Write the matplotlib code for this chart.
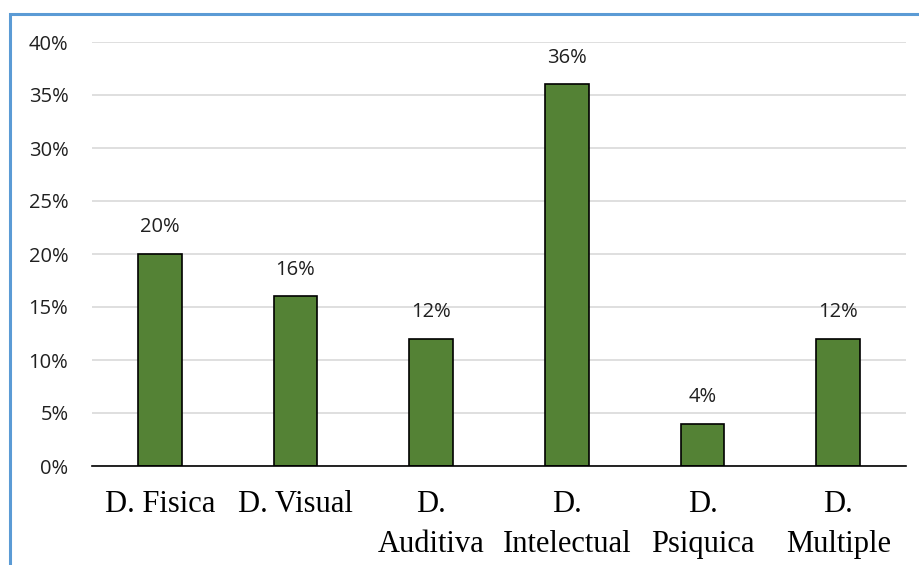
import matplotlib
matplotlib.use("Agg")
import matplotlib.pyplot as plt
from matplotlib.patches import Rectangle
from matplotlib.ticker import PercentFormatter

categories = ["D. Fisica", "D. Visual", "D.\nAuditiva", "D.\nIntelectual", "D.\nPsiquica", "D.\nMultiple"]
values = [0.20, 0.16, 0.12, 0.36, 0.04, 0.12]
yticks = [0, 0.05, 0.10, 0.15, 0.20, 0.25, 0.30, 0.35, 0.40]

W, H = 920, 565
fig = plt.figure(figsize=(W / 100, H / 100), dpi=100)
ax = fig.add_axes([92 / W, 1 - 466 / H, (906 - 92) / W, (466 - 42) / H])

x = list(range(len(categories)))
ax.bar(x, values, width=0.32, color="#548235", edgecolor="black", linewidth=1.2, zorder=3)
for xi, v in zip(x, values):
    ax.annotate(f"{round(v*100)}%", (xi, v), xytext=(0, 12), textcoords="offset points",
                ha="center", va="bottom", fontsize=14.5, family="Open Sans", color="#202020")

ax.set_xlim(-0.5, len(categories) - 0.5)
ax.set_ylim(0, 0.4)
ax.set_yticks(yticks)
ax.yaxis.set_major_formatter(PercentFormatter(1.0, decimals=0))
ax.grid(axis="y", color="#D9D9D9", linewidth=1.2, zorder=0)
for s in ["top", "right", "left"]:
    ax.spines[s].set_visible(False)
ax.spines["bottom"].set_color("#000000")
ax.spines["bottom"].set_linewidth(1.2)
ax.spines["bottom"].set_zorder(4)
ax.tick_params(axis="both", length=0)
ax.tick_params(axis="y", labelsize=14.5, pad=17)
for lab in ax.get_yticklabels():
    lab.set_family("Open Sans")
    lab.set_color("#202020")
ax.set_xticks(x)
ax.set_xticklabels(categories, fontsize=22, family="Liberation Serif", linespacing=1.5, va="top")
ax.tick_params(axis="x", pad=17)

fig.patches.append(Rectangle((10 / W, -0.1), 1.2, 1 - 14 / H + 0.1, transform=fig.transFigure,
                             fill=False, edgecolor="#5B9BD5", linewidth=2.2))

fig.savefig("out.png", dpi=100)
